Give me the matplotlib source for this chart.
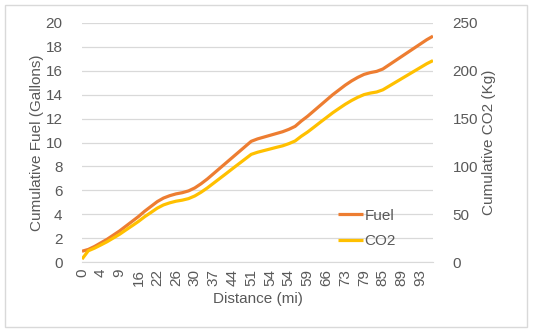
import matplotlib
matplotlib.use("Agg")
import matplotlib.pyplot as plt
from matplotlib.patches import Rectangle

plt.rcParams["font.family"] = ["Liberation Sans", "DejaVu Sans"]

# distance (mi) at each recorded point -- category axis, every 3rd is labelled
distance = [0, 1, 3, 4, 6, 7, 9, 11, 14, 16, 18, 20, 22, 23, 25, 26, 27, 29,
            30, 32, 35, 37, 39, 42, 44, 46, 49, 51, 52, 53, 54, 54, 54, 54, 56, 58,
            59, 61, 64, 66, 68, 71, 73, 75, 77, 79, 81, 83, 85, 86, 88, 89, 90, 92,
            93, 95, 96]

fuel = [0.9, 1.05, 1.3, 1.6, 1.9, 2.25, 2.6, 3.0, 3.4, 3.8, 4.25, 4.65, 5.05,
        5.35, 5.55, 5.7, 5.8, 5.95, 6.2, 6.55, 6.95, 7.4, 7.85, 8.3, 8.75, 9.2,
        9.65, 10.1, 10.3, 10.45, 10.6, 10.75, 10.9, 11.1, 11.35, 11.8, 12.2,
        12.65, 13.1, 13.55, 14.0, 14.4, 14.8, 15.15, 15.45, 15.7, 15.85, 15.95,
        16.15, 16.5, 16.85, 17.2, 17.55, 17.9, 18.25, 18.6, 18.9]

co2 = [3.0, 11.7, 14.5, 17.8, 21.2, 25.1, 29.0, 33.5, 37.9, 42.4, 47.4, 51.8,
       56.3, 59.7, 61.9, 63.6, 64.7, 66.3, 69.1, 73.0, 77.5, 82.5, 87.5, 92.5,
       97.6, 102.6, 107.6, 112.6, 114.8, 116.5, 118.2, 119.9, 121.5, 123.8,
       126.6, 131.6, 136.0, 141.0, 146.1, 151.1, 156.1, 160.6, 165.0, 168.9,
       172.3, 175.1, 176.7, 177.8, 180.1, 184.0, 187.9, 191.8, 195.7, 199.6,
       203.5, 207.4, 210.7]

fuel_ticks = [0, 2, 4, 6, 8, 10, 12, 14, 16, 18, 20]
co2_ticks = [0, 50, 100, 150, 200, 250]

TXT = "#595959"
GRID = "#D9D9D9"
FS = 11

W, H = 534, 334
fig = plt.figure(figsize=(W / 100, H / 100), dpi=100)
ax = fig.add_axes([82 / W, 1 - 262 / H, (433 - 82) / W, (262 - 23) / H])
ax2 = ax.twinx()

x = list(range(len(distance)))
l1, = ax.plot(x, fuel, color="#ED7D31", lw=2.3, solid_capstyle="butt", zorder=3)
l2, = ax2.plot(x, co2, color="#FFC000", lw=2.3, solid_capstyle="butt", zorder=3)

ax.set_xlim(0, len(distance) - 1)
ax.set_ylim(0, 20)
ax2.set_ylim(0, 250)
ax.set_yticks(fuel_ticks)
ax2.set_yticks(co2_ticks)
ax.set_xticks(x[::3])
ax.set_xticklabels([str(d) for d in distance[::3]], rotation=90)

ax.grid(axis="y", color=GRID, lw=0.9)
ax.set_axisbelow(True)
for a in (ax, ax2):
    for s in a.spines.values():
        s.set_visible(False)
    a.tick_params(length=0, colors=TXT, labelsize=FS)
ax.spines["bottom"].set_visible(True)
ax.spines["bottom"].set_color(GRID)
ax.tick_params(axis="y", pad=14)
ax2.tick_params(axis="y", pad=14)
ax.tick_params(axis="x", pad=5)

ax.set_ylabel("Cumulative Fuel (Gallons)", color=TXT, fontsize=FS, labelpad=1)
ax2.set_ylabel("Cumulative CO2 (Kg)", color=TXT, fontsize=FS, labelpad=3)
ax.set_xlabel("Distance (mi)", color=TXT, fontsize=FS, labelpad=4)

leg = ax.legend([l1, l2], ["Fuel", "CO2"], loc="upper left",
                bbox_to_anchor=(330 / W, 1 - 201 / H), bbox_transform=fig.transFigure,
                frameon=False, fontsize=FS, handlelength=1.65, handletextpad=0.1,
                labelspacing=0.75, borderpad=0, labelcolor=TXT)

fig.patches.append(Rectangle((5 / W, 1 - 327 / H), 522 / W, 322 / H,
                             transform=fig.transFigure, fill=False,
                             edgecolor=GRID, lw=1))

fig.savefig("out.png", dpi=100)
